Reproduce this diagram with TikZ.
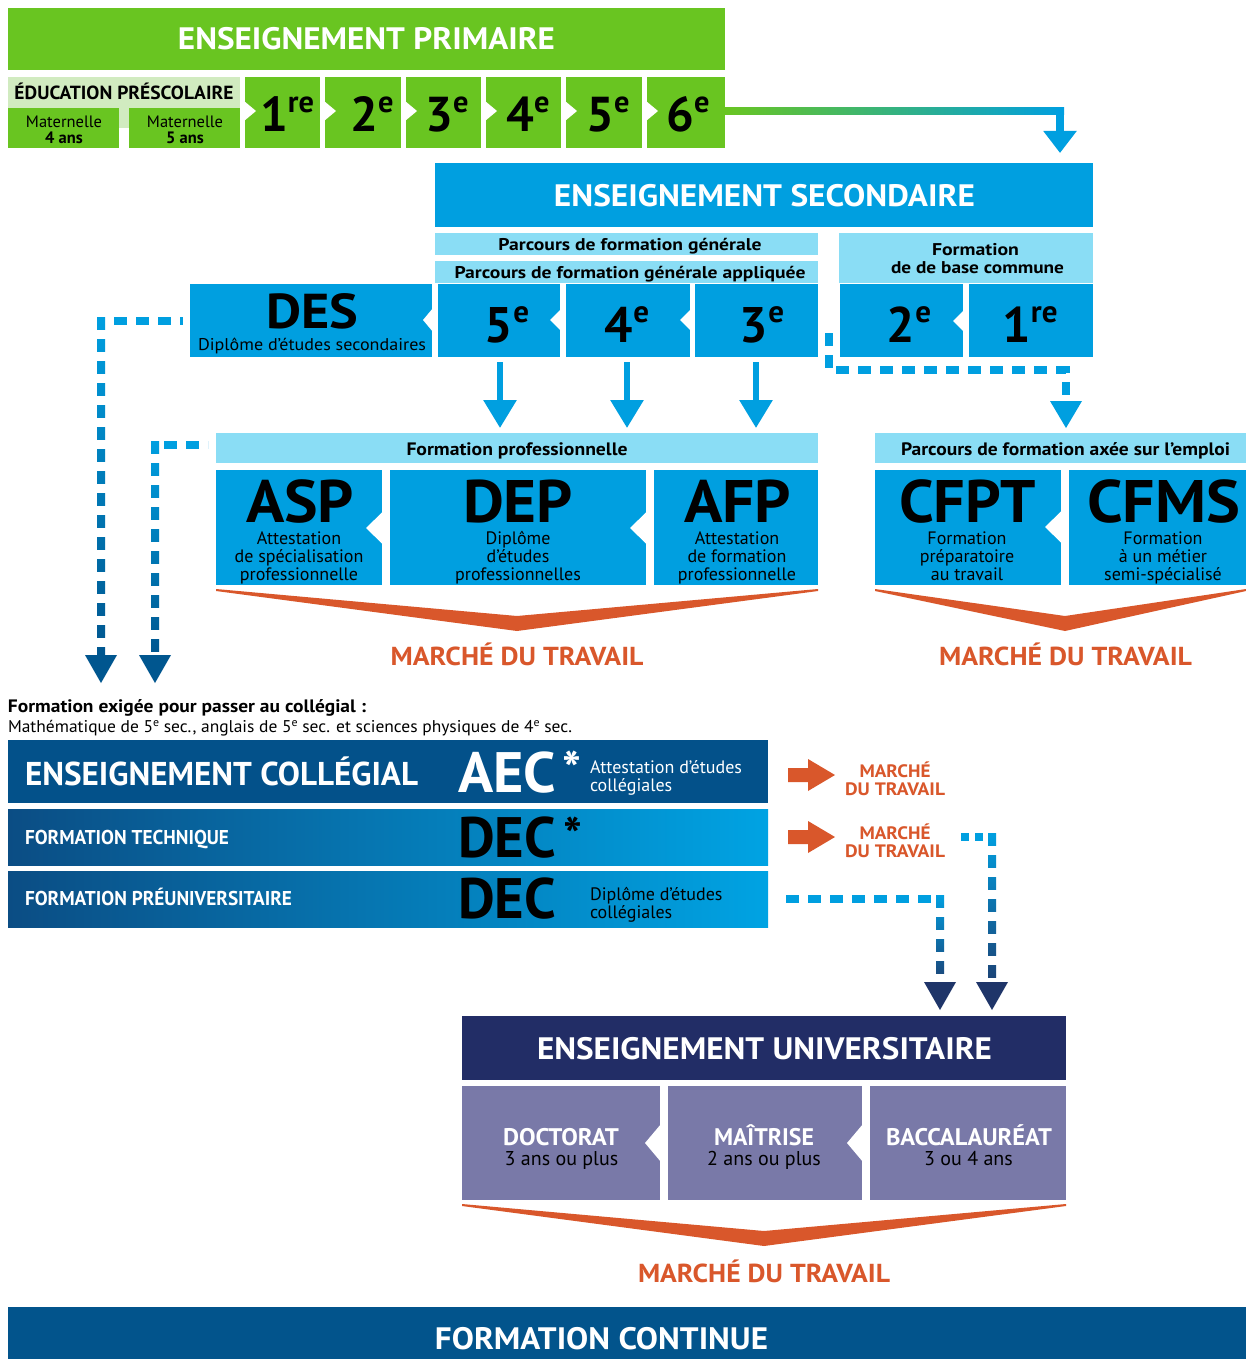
\documentclass[tikz,border=0pt]{standalone}
\usepackage{graphicx}
\usepackage{fontspec}
\setmainfont{PT Sans}
\usetikzlibrary{calc,arrows.meta}
\definecolor{pgreen}{HTML}{69C521}
\definecolor{plgreen}{HTML}{D1EBC0}
\definecolor{sblue}{HTML}{009FE0}
\definecolor{slblue}{HTML}{8ADDF5}
\definecolor{morange}{HTML}{D9572B}
\definecolor{cdark}{HTML}{03518A}
\definecolor{cleft}{HTML}{0B4D84}
\definecolor{cbright}{HTML}{00A3E3}
\definecolor{unavy}{HTML}{222D66}
\definecolor{upurple}{HTML}{7979A8}
\definecolor{fcblue}{HTML}{02548C}
\definecolor{ddark}{HTML}{00568F}
\definecolor{rdark}{HTML}{1C4275}
\definecolor{rnavy}{HTML}{1F3569}
\definecolor{gteal}{HTML}{00B98F}
\newcommand\fitw[2]{\resizebox{#1}{\height}{#2}}
\newcommand\fsz[1]{\fontsize{#1pt}{#1pt}\selectfont}
\newcommand\gsup[1]{\raisebox{0.39em}{\scalebox{0.62}{#1}}}
\newcommand\tsup[1]{\raisebox{0.3em}{\scalebox{0.68}{#1}}}
\newcommand\bx[6]{\node[bx, fill=#6, minimum width={#4pt-#2pt}, minimum height={#5pt-#3pt}] (#1) at (#2,#3) {};}
\newcommand\nt[4]{\fill[white] (#1,{#2-#4/2}) -- ({#1+#3},#2) -- (#1,{#2+#4/2}) -- cycle;}
\begin{document}
\begin{tikzpicture}[x=1pt,y=-1pt,
  bx/.style={draw=none, inner sep=0pt, outer sep=0pt, anchor=north west},
  t/.style={inner sep=0pt, outer sep=0pt, anchor=base},
  tl/.style={inner sep=0pt, outer sep=0pt, anchor=base west},
  dl/.style={line width=8pt, dash pattern=on 13pt off 9pt},
  gapw/.style={white, line width=11pt, dash pattern=on 9pt off 13pt, dash phase=9pt},
  grade/.style={t, font=\fsz{49}\bfseries},
  sgrade/.style={t, font=\fsz{50}\bfseries},
  sub/.style={t, font=\fsz{18}},
  mt/.style={t, text=morange, font=\fsz{26}\bfseries},
  star/.style={t, font=\fsz{50}\bfseries},
  solidarrow/.style={draw=sblue, line width=6pt, -{Triangle[width=32pt,length=28pt]}},
]
\useasboundingbox (0,0) rectangle (1246,1359);
\fill[white] (0,0) rectangle (1246,1359);

% ---------------- PRIMAIRE ----------------
\bx{prim}{8}{8}{725}{70}{pgreen}
\node[t, text=white] at (366.5,50) {\fitw{377pt}{\fsz{31}\bfseries ENSEIGNEMENT PRIMAIRE}};
\bx{presc}{8}{77}{240}{128}{plgreen}
\node[t] at (124,100) {\fitw{219pt}{\fsz{19}\bfseries ÉDUCATION PRÉSCOLAIRE}};
\bx{m4}{8}{108}{119}{148}{pgreen}
\bx{m5}{129}{108}{240}{148}{pgreen}
\node[t, font=\fsz{16.5}] at (64,128) {Maternelle};
\node[t, font=\fsz{16.5}\bfseries] at (64,144) {4 ans};
\node[t, font=\fsz{16.5}] at (185,128) {Maternelle};
\node[t, font=\fsz{16.5}\bfseries] at (185,144) {5 ans};
\bx{g1}{245}{77}{320}{148}{pgreen}
\bx{g2}{325}{77}{401}{148}{pgreen}
\bx{g3}{406}{77}{481}{148}{pgreen}
\bx{g4}{486}{77}{561}{148}{pgreen}
\bx{g5}{566}{77}{642}{148}{pgreen}
\bx{g6}{647}{77}{725}{148}{pgreen}
\foreach \xx in {244,324,405,485,565,646} {\nt{\xx}{111}{12}{20}}
\node[grade] at (287,132) {1\gsup{re}};
\node[grade] at (372,132) {2\gsup{e}};
\node[grade] at (447,132) {3\gsup{e}};
\node[grade] at (528,132) {4\gsup{e}};
\node[grade] at (608,132) {5\gsup{e}};
\node[grade] at (688,132) {6\gsup{e}};

% gradient connector primaire -> secondaire
\coordinate (pa) at (725,111.5);
\coordinate (pb) at (1060,111.5);
\coordinate (pc) at (1060,153);
\shade[left color=pgreen, middle color=gteal, right color=sblue] ($(pa)+(0,-3.5)$) rectangle ($(pb)+(4,3.5)$);
\draw[sblue, line width=8pt, -{Triangle[width=32pt,length=22pt]}] ($(pb)+(0,-3.5)$) -- (pc);

% ---------------- SECONDAIRE ----------------
\bx{sec}{435}{163}{1093}{227}{sblue}
\node[t, text=white] at (764.5,206) {\fitw{421pt}{\fsz{31}\bfseries ENSEIGNEMENT SECONDAIRE}};
\bx{pfg}{435}{233}{818}{255}{slblue}
\node[t] at (630,250) {\fitw{263pt}{\fsz{17}\bfseries Parcours de formation générale}};
\bx{pfga}{435}{261}{818}{283}{slblue}
\node[t] at (630,278) {\fitw{351pt}{\fsz{17}\bfseries Parcours de formation générale appliquée}};
\bx{fbc}{839}{233}{1093}{283}{slblue}
\node[t] at (975.5,255) {\fitw{87pt}{\fsz{17}\bfseries Formation}};
\node[t] at (977.5,273) {\fitw{173pt}{\fsz{17}\bfseries de de base commune}};

\bx{des}{190}{284}{432}{357}{sblue}
\bx{s5}{438}{284}{560}{357}{sblue}
\bx{s4}{566}{284}{690}{357}{sblue}
\bx{s3}{695}{284}{818}{357}{sblue}
\bx{s2}{840}{284}{963}{357}{sblue}
\bx{s1}{969}{284}{1093}{357}{sblue}
\nt{433}{320}{-10}{24}
\nt{561}{320}{-11}{22}
\nt{691}{320}{-11}{22}
\nt{964}{321}{-11}{22}
\node[t] at (312,328) {\fitw{92pt}{\fsz{49}\bfseries DES}};
\node[t] at (312,350) {\fitw{228pt}{\fsz{17}Diplôme d’études secondaires}};
\node[sgrade] at (507,342) {5\gsup{e}};
\node[sgrade] at (627,342) {4\gsup{e}};
\node[sgrade] at (762,342) {3\gsup{e}};
\node[sgrade] at (909,342) {2\gsup{e}};
\node[sgrade] at (1030,342) {1\gsup{re}};

% solid arrows to formation professionnelle
\draw[solidarrow] ($(s5.south)+(1,5)$) -- ($(s5.south)+(1,71)$);
\draw[solidarrow] ($(s4.south)+(-1,5)$) -- ($(s4.south)+(-1,71)$);
\draw[solidarrow] ($(s3.south)+(-0.5,5)$) -- ($(s3.south)+(-0.5,71)$);

% dashed from 2e/1re to parcours axee sur l'emploi
\coordinate (ea) at (829,333);
\coordinate (eb) at (829,370);
\coordinate (ec) at (1066,370);
\coordinate (ed) at (1066,401);
\draw[dl, sblue] (ea) -- (eb) -- (ec) -- (ed);
\fill[sblue] ($(ed)+(-16,0)$) -- ($(ed)+(16,0)$) -- ($(ed)+(0,27)$) -- cycle;

% dashed from DES down (gradient)
\coordinate (la) at (183,321);
\coordinate (lb) at (101,321);
\coordinate (lc) at (101,655);
\draw[dl, sblue] ($(lb)+(13,0)$) -- (la);
\shade[top color=sblue, bottom color=ddark] ($(lb)+(-4,-4)$) rectangle ($(lc)+(4,0)$);
\draw[gapw] ($(lb)+(0,-4)$) -- (lc);
\fill[ddark] ($(lc)+(-16,0)$) -- ($(lc)+(16,0)$) -- ($(lc)+(0,28)$) -- cycle;

\coordinate (ma) at (208,445);
\coordinate (mb) at (155,445);
\coordinate (mc) at (155,655);
\draw[dl, sblue] ($(mb)+(9,0)$) -- (ma);
\shade[top color=sblue, bottom color=ddark] ($(mb)+(-4,-4)$) rectangle ($(mc)+(4,0)$);
\draw[gapw] ($(mb)+(0,-4)$) -- (mc);
\fill[ddark] ($(mc)+(-16,0)$) -- ($(mc)+(16,0)$) -- ($(mc)+(0,28)$) -- cycle;

% ---------------- FORMATION PROFESSIONNELLE ----------------
\bx{fp}{216}{433}{818}{463}{slblue}
\node[t] at (517,455) {\fitw{221pt}{\fsz{18}\bfseries Formation professionnelle}};
\bx{asp}{216}{470}{382}{585}{sblue}
\bx{dep}{390}{470}{646}{585}{sblue}
\bx{afp}{654}{470}{818}{585}{sblue}
\nt{383}{528}{-17}{33}
\nt{647}{528}{-17}{33}
\node[t] at (300,522) {\fitw{108pt}{\fsz{60}\bfseries ASP}};
\node[t] at (518,522) {\fitw{110pt}{\fsz{60}\bfseries DEP}};
\node[t] at (737.5,522) {\fitw{107pt}{\fsz{60}\bfseries AFP}};
\node[sub] at (299,544) {Attestation};
\node[sub] at (299,562) {de spécialisation};
\node[sub] at (299,580) {professionnelle};
\node[sub] at (518,544) {Diplôme};
\node[sub] at (518,562) {d’études};
\node[sub] at (518,580) {professionnelles};
\node[sub] at (737,544) {Attestation};
\node[sub] at (737,562) {de formation};
\node[sub] at (737,580) {professionnelle};
\fill[morange] (216,589) -- (517,616) -- (818,589) -- (818,591) -- (517,631) -- (216,591) -- cycle;
\node[mt] at (517,665) {\fitw{253pt}{MARCHÉ DU TRAVAIL}};

% ---------------- AXEE SUR L'EMPLOI ----------------
\bx{pfae}{875}{433}{1246}{463}{slblue}
\node[t] at (1065.5,455) {\fitw{329pt}{\fsz{18}\bfseries Parcours de formation axée sur l’emploi}};
\bx{cfpt}{875}{470}{1061}{585}{sblue}
\bx{cfms}{1069}{470}{1246}{585}{sblue}
\nt{1062}{527}{-17}{33}
\node[t] at (967.5,522) {\fitw{137pt}{\fsz{60}\bfseries CFPT}};
\node[t] at (1163.5,522) {\fitw{153pt}{\fsz{60}\bfseries CFMS}};
\node[sub] at (967,544) {Formation};
\node[sub] at (967,562) {préparatoire};
\node[sub] at (967,580) {au travail};
\node[sub] at (1163,544) {Formation};
\node[sub] at (1163,562) {à un métier};
\node[sub] at (1163,580) {semi-spécialisé};
\fill[morange] (875,589) -- (1065,616) -- (1246,589) -- (1246,591) -- (1065,631) -- (875,591) -- cycle;
\node[mt] at (1065.5,665) {\fitw{253pt}{MARCHÉ DU TRAVAIL}};

% ---------------- COLLEGIAL ----------------
\node[tl] at (8,712) {\fitw{358pt}{\fsz{18}\bfseries Formation exigée pour passer au collégial :}};
\node[tl] at (8,732) {\fitw{564pt}{\fsz{17}Mathématique de 5\tsup{e} sec., anglais de 5\tsup{e} sec. et sciences physiques de 4\tsup{e} sec.}};

\bx{c1}{8}{740}{768}{803}{cdark}
\node[bx, left color=cleft, right color=cbright, minimum width=760pt, minimum height=56pt] (c2) at (8,809) {};
\node[bx, left color=cleft, right color=cbright, minimum width=760pt, minimum height=56pt] (c3) at (8,871) {};
\node[tl, text=white] at (25,785) {\fitw{393pt}{\fsz{33}\bfseries ENSEIGNEMENT COLLÉGIAL}};
\node[tl, text=white] at (458,792) {\fitw{98pt}{\fsz{57}\bfseries AEC}};
\node[star, text=white] at (572,787) {*};
\node[tl, text=white, font=\fsz{18}] at (590,773) {Attestation d’études};
\node[tl, text=white, font=\fsz{18}] at (590,791) {collégiales};
\node[tl, text=white] at (25,844) {\fitw{204pt}{\fsz{20}\bfseries FORMATION TECHNIQUE}};
\node[tl] at (458,857) {\fitw{98pt}{\fsz{57}\bfseries DEC}};
\node[star] at (573,853) {*};
\node[tl, text=white] at (25,905) {\fitw{267pt}{\fsz{20}\bfseries FORMATION PRÉUNIVERSITAIRE}};
\node[tl] at (458,918) {\fitw{98pt}{\fsz{57}\bfseries DEC}};
\node[tl, font=\fsz{18}] at (590,900) {Diplôme d’études};
\node[tl, font=\fsz{18}] at (590,918) {collégiales};

% orange arrows
\fill[morange] (788,768) -- (808,768) -- (808,759) -- (835,775) -- (808,791) -- (808,782) -- (788,782) -- cycle;
\fill[morange] (788,830) -- (808,830) -- (808,821) -- (835,837) -- (808,853) -- (808,844) -- (788,844) -- cycle;
\node[t, text=morange] at (895,777) {\fitw{71pt}{\fsz{18}\bfseries MARCHÉ}};
\node[t, text=morange] at (895,795) {\fitw{100pt}{\fsz{18}\bfseries DU TRAVAIL}};
\node[t, text=morange] at (895,839) {\fitw{71pt}{\fsz{18}\bfseries MARCHÉ}};
\node[t, text=morange] at (895,857) {\fitw{100pt}{\fsz{18}\bfseries DU TRAVAIL}};

% dashed to universitaire
\coordinate (ra) at (786,899);
\coordinate (rb) at (940,899);
\coordinate (rc) at (940,982);
\draw[dl, sblue] (ra) -- ($(rb)+(-9,0)$);
\shade[top color=sblue, bottom color=rdark] ($(rb)+(-4,-4)$) rectangle ($(rc)+(4,0)$);
\draw[gapw] ($(rb)+(0,-4)$) -- (rc);
\fill[rnavy] ($(rc)+(-16,0)$) -- ($(rc)+(16,0)$) -- ($(rc)+(0,28)$) -- cycle;

\coordinate (qa) at (961,837);
\coordinate (qb) at (992,837);
\coordinate (qc) at (992,982);
\draw[dl, sblue, dash pattern=on 8pt off 6pt] (qa) -- ($(qb)+(-8,0)$);
\shade[top color=sblue, bottom color=rdark] ($(qb)+(-4,-4)$) rectangle ($(qc)+(4,0)$);
\draw[gapw] ($(qb)+(0,-4)$) -- (qc);
\fill[rnavy] ($(qc)+(-16,0)$) -- ($(qc)+(16,0)$) -- ($(qc)+(0,28)$) -- cycle;

% ---------------- UNIVERSITAIRE ----------------
\bx{univ}{462}{1016}{1066}{1080}{unavy}
\node[t, text=white] at (764.5,1059) {\fitw{455pt}{\fsz{31}\bfseries ENSEIGNEMENT UNIVERSITAIRE}};
\bx{doc}{462}{1086}{660}{1200}{upurple}
\bx{mai}{668}{1086}{862}{1200}{upurple}
\bx{bac}{870}{1086}{1066}{1200}{upurple}
\nt{661}{1143}{-16}{38}
\nt{863}{1143}{-16}{38}
\node[t, text=white] at (561,1145) {\fitw{116pt}{\fsz{24}\bfseries DOCTORAT}};
\node[t, font=\fsz{20}] at (561.5,1165) {3 ans ou plus};
\node[t, text=white] at (764,1145) {\fitw{100pt}{\fsz{24}\bfseries MAÎTRISE}};
\node[t, font=\fsz{20}] at (764,1165) {2 ans ou plus};
\node[t, text=white] at (969,1145) {\fitw{166pt}{\fsz{24}\bfseries BACCALAURÉAT}};
\node[t, font=\fsz{20}] at (968.5,1165) {3 ou 4 ans};
\fill[morange] (462,1204) -- (764,1231) -- (1066,1204) -- (1066,1206) -- (764,1246) -- (462,1206) -- cycle;
\node[mt] at (764,1282) {\fitw{252pt}{MARCHÉ DU TRAVAIL}};

% ---------------- FORMATION CONTINUE ----------------
\bx{fc}{8}{1307}{1246}{1359}{fcblue}
\node[t, text=white] at (601.5,1349) {\fitw{333pt}{\fsz{31}\bfseries FORMATION CONTINUE}};
\end{tikzpicture}
\end{document}
